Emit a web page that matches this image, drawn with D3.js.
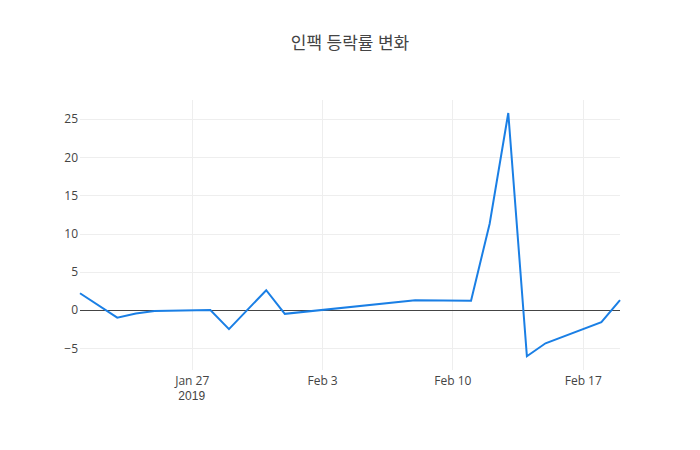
<!DOCTYPE html>
<html>
<head>
<meta charset="utf-8">
<script src="https://cdn.jsdelivr.net/npm/d3@7"></script>
<style>
  body { margin: 0; background: #fff; }
  svg { font-family: "Open Sans", "Noto Sans", sans-serif; }
</style>
</head>
<body>
<div class="chart"></div>
<script>
// trading days and daily change (%)
const dates = ["2019-01-21","2019-01-23","2019-01-24","2019-01-25","2019-01-28","2019-01-29",
  "2019-01-31","2019-02-01","2019-02-08","2019-02-11","2019-02-12","2019-02-13",
  "2019-02-14","2019-02-15","2019-02-18","2019-02-19"]
const changes = [2.2, -1.0, -0.45, -0.12, 0.0, -2.5, 2.6, -0.5, 1.27, 1.22, 11.3, 25.8,
  -6.05, -4.35, -1.6, 1.3]
const yTicks = [-5, 0, 5, 10, 15, 20, 25]
const xTicks = ["2019-01-27","2019-02-03","2019-02-10","2019-02-17"]
const title = "인팩 등락률 변화"

const width = 700, height = 450
const padding = {left: 80, right: 80, top: 100, bottom: 80}
const parse = d3.timeParse("%Y-%m-%d")

const svg = d3.select(".chart").append("svg").attr("width", width).attr("height", height)

const xScale = d3.scaleTime()
  .domain([parse("2019-01-21"), parse("2019-02-19")])
  .range([padding.left, width - padding.right])
const yScale = d3.scaleLinear()
  .domain([-7.85, 27.5])
  .range([height - padding.bottom, padding.top])

const crisp = v => Math.round(v) + 0.5

// grid
svg.append("g").selectAll("line").data(yTicks.filter(d => d != 0)).enter().append("line")
  .attr("x1", padding.left).attr("x2", width - padding.right)
  .attr("y1", d => crisp(yScale(d))).attr("y2", d => crisp(yScale(d)))
  .attr("stroke", "#eee").attr("stroke-width", 1)
svg.append("g").selectAll("line").data(xTicks).enter().append("line")
  .attr("x1", d => crisp(xScale(parse(d)))).attr("x2", d => crisp(xScale(parse(d))))
  .attr("y1", padding.top).attr("y2", height - padding.bottom)
  .attr("stroke", "#eee").attr("stroke-width", 1)

// zero line
svg.append("line")
  .attr("x1", padding.left).attr("x2", width - padding.right)
  .attr("y1", crisp(yScale(0))).attr("y2", crisp(yScale(0)))
  .attr("stroke", "#444").attr("stroke-width", 1)

// y axis labels
const yAxis = svg.append("g")
  .attr("transform", "translate(" + (padding.left - 2) + ",0)")
  .call(d3.axisLeft(yScale).tickValues(yTicks).tickSize(0).tickPadding(0)
    .tickFormat(d => d < 0 ? "\u2212" + Math.abs(d) : d))
yAxis.select(".domain").remove()
yAxis.selectAll("text").attr("fill", "#444").style("font-size", "12px")
  .style("font-family", "'Open Sans', sans-serif")

// x axis labels
const xAxis = svg.append("g")
  .attr("transform", "translate(0," + (height - padding.bottom) + ")")
  .call(d3.axisBottom(xScale).tickValues(xTicks.map(parse)).tickSize(0).tickPadding(6)
    .tickFormat(d3.timeFormat("%b %-d")))
xAxis.select(".domain").remove()
xAxis.selectAll("text").attr("fill", "#444").style("font-size", "12px")
  .style("font-family", "'Open Sans', sans-serif")
xAxis.append("text")
  .attr("x", xScale(parse(xTicks[0]))).attr("y", 30)
  .attr("fill", "#444").attr("text-anchor", "middle")
  .style("font-size", "12px")
  .text("2019")

// line
const lineFunction = d3.line()
  .x((d, i) => xScale(parse(dates[i])))
  .y(d => yScale(d))
svg.append("path")
  .datum(changes)
  .attr("fill", "none")
  .attr("stroke", "#1a7fe5")
  .attr("stroke-width", 2)
  .attr("stroke-linejoin", "miter")
  .attr("d", lineFunction)

// title
svg.append("text")
  .attr("x", width / 2).attr("y", 49)
  .attr("text-anchor", "middle")
  .attr("fill", "#444")
  .style("font-size", "17px")
  .style("font-family", "'Open Sans', 'Noto Sans CJK KR', sans-serif")
  .text(title)
</script>
</body>
</html>
